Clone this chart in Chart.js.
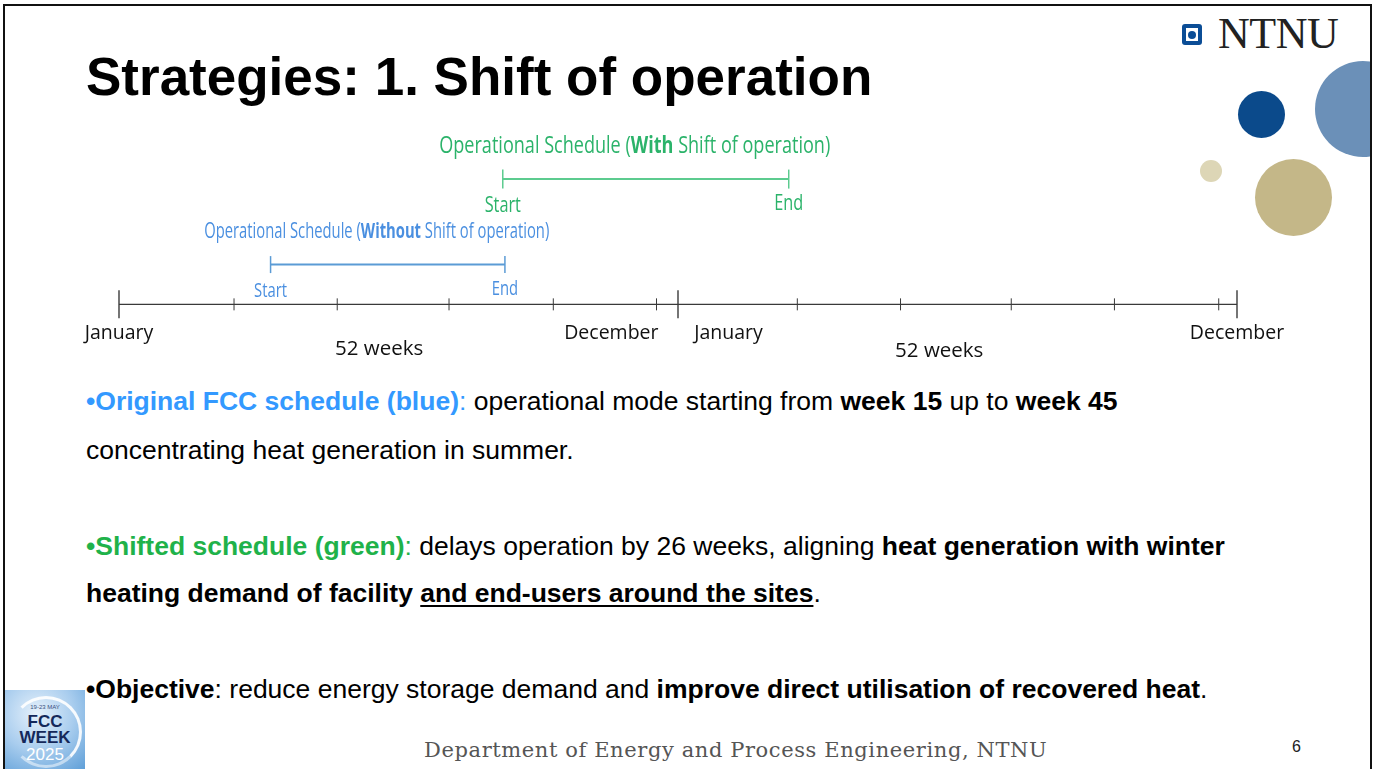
<!DOCTYPE html>
<html>
<head>
<meta charset="utf-8">
<script src="https://cdn.jsdelivr.net/npm/chart.js@4.4.1/dist/chart.umd.min.js"></script>
<style>
  html, body { margin: 0; padding: 0; background: #fff; }
  body { width: 1374px; height: 769px; position: relative; overflow: hidden; font-family: "Liberation Sans", Arial, sans-serif; }
  .clip { position: absolute; left: 0; top: 0; width: 1370px; height: 769px; overflow: hidden; }
  .frame { position: absolute; left: 3px; top: 4px; width: 1365px; height: 780px; border: 2px solid #111; }
  .dot { position: absolute; border-radius: 50%; }
  .title { position: absolute; left: 86px; top: 50px; font-size: 53px; font-weight: bold; line-height: 53px; color: #000; white-space: nowrap; }
  .line { position: absolute; left: 86px; font-size: 26.5px; line-height: 26.5px; color: #000; white-space: nowrap; }
  .blue { color: #3399ff; }
  .green { color: #1fb24a; }
  u { text-underline-offset: 3px; text-decoration-thickness: 2px; }
  .logo-box { position: absolute; left: 1182px; top: 24px; width: 20px; height: 21px; background: #0b4d96; border-radius: 3px; }
  .logo-box::before { content: ""; position: absolute; left: 4px; top: 4px; width: 12px; height: 13px; background: #fff; }
  .logo-box::after { content: ""; position: absolute; left: 6px; top: 6.5px; width: 8px; height: 8px; background: #0b4d96; border-radius: 50%; }
  .logo-text { position: absolute; left: 1218px; top: 12px; font-family: "Liberation Serif", serif; font-size: 44px; line-height: 44px; color: #222; letter-spacing: -0.5px; }
  .footer { position: absolute; left: 424px; top: 738px; font-family: "DejaVu Serif", serif; font-size: 21px; line-height: 24px; letter-spacing: 0.6px; color: #555; white-space: nowrap; }
  .page { position: absolute; left: 1292px; top: 738px; font-size: 16px; color: #222; }
  .fcc { position: absolute; left: 5px; top: 690px; width: 80px; height: 79px; background: radial-gradient(circle at 40% 30%, #e6f1fb 0%, #a9cdee 50%, #5f9fd8 100%); overflow: hidden; }
  .fcc .ring { position: absolute; left: 5px; top: 6px; width: 66px; height: 66px; border-radius: 50%; border: 3px solid rgba(255,255,255,0.9); border-left-color: transparent; border-bottom-color: rgba(255,255,255,0.5); }
  .fcc .t { position: absolute; width: 80px; text-align: center; font-weight: bold; color: #14285a; }
  #timeline { position: absolute; left: 0; top: 110px; }
</style>
</head>
<body>
<div class="clip">
  <div class="dot" style="left:1315px; top:61px; width:96px; height:96px; background:#6b90b8;"></div>
  <div class="dot" style="left:1238px; top:91px; width:47px; height:47px; background:#0b4a8b;"></div>
  <div class="dot" style="left:1200px; top:160px; width:22px; height:22px; background:#ddd6b6;"></div>
  <div class="dot" style="left:1255px; top:159px; width:77px; height:77px; background:#c4b788;"></div>
</div>
<div class="frame"></div>

<div class="logo-box"></div>
<div class="logo-text">NTNU</div>

<div class="title">Strategies: 1. Shift of operation</div>

<canvas id="timeline" width="1374" height="270"></canvas>

<div class="line" style="top:388px;"><span class="blue"><b>•Original FCC schedule (blue)</b>: </span>operational mode starting from <b>week 15</b> up to <b>week 45</b></div>
<div class="line" style="top:437px;">concentrating heat generation in summer.</div>
<div class="line" style="top:533px;"><span class="green"><b>•Shifted schedule (green)</b>: </span>delays operation by 26 weeks, aligning <b>heat generation with winter</b></div>
<div class="line" style="top:580px;"><b>heating demand of facility <u>and end-users around the sites</u></b>.</div>
<div class="line" style="top:676px;"><b>•Objective</b>: reduce energy storage demand and <b>improve direct utilisation of recovered heat</b>.</div>

<div class="fcc">
  <div class="ring"></div>
  <div class="t" style="top:14px; font-size:6px; font-weight:normal; color:#3a4f80;">19-23 MAY</div>
  <div class="t" style="top:23px; font-size:17px; line-height:17px;">FCC</div>
  <div class="t" style="top:39px; font-size:17px; line-height:17px;">WEEK</div>
  <div class="t" style="top:56px; font-size:17px; line-height:17px; font-weight:normal; color:#fff;">2025</div>
</div>

<div class="footer">Department of Energy and Process Engineering, NTNU</div>
<div class="page">6</div>

<script>
// timeline in weeks: two years of 52 weeks
const tickWeeks = [0, 10.7, 20.3, 30.7, 40.4, 50, 52, 63.1, 72.7, 83, 92.6, 102.3, 104];
const majorTickWeeks = [0, 52, 104];
const axisLabels = ['January', 'December', 'January', 'December'];
const axisLabelWeeks = [0, 45.8, 56.7, 104];
const spanLabels = ['52 weeks', '52 weeks'];
const spanLabelWeeks = [24.2, 76.3];

// operational schedules (without / with shift)
const scheduleNames = ['Without', 'With'];
const scheduleStart = [14.1, 35.7];
const scheduleEnd = [35.9, 62.3];
const scheduleRow = [1, 3.15];

const axisColor = '#3a3a3a';
const lineColors = ['#5b9bd5', '#5ccb8f'];
const textColors = ['#4a8fe0', '#2bb36a'];
const titleSize = [22, 23];
const titleWidth = [345, 391];
const markSize = [20, 22];

function drawRich(ctx, parts, cx, cy, size, fitWidth, scaleX) {
  let total = 0;
  parts.forEach(p => {
    ctx.font = (p.bold ? 'bold ' : '') + size + 'px "Open Sans"';
    total += ctx.measureText(p.text).width;
  });
  const sx = fitWidth ? fitWidth / total : scaleX;
  ctx.save();
  ctx.translate(cx - total * sx / 2, cy);
  ctx.scale(sx, 1);
  ctx.textAlign = 'left';
  ctx.textBaseline = 'middle';
  let xx = 0;
  parts.forEach(p => {
    ctx.font = (p.bold ? 'bold ' : '') + size + 'px "Open Sans"';
    ctx.fillText(p.text, xx, 0);
    xx += ctx.measureText(p.text).width;
  });
  ctx.restore();
}

const timelineLabels = {
  id: 'timelineLabels',
  afterDatasetsDraw(chart) {
    const { ctx, scales: { x, y } } = chart;
    const y0 = y.getPixelForValue(0);
    ctx.save();
    ctx.fillStyle = '#111';
    ctx.textAlign = 'center';
    ctx.textBaseline = 'middle';
    ctx.font = '19.5px "Open Sans"';
    axisLabels.forEach((t, i) => ctx.fillText(t, x.getPixelForValue(axisLabelWeeks[i]), y0 + 29));
    ctx.font = '20.5px "Open Sans"';
    spanLabels.forEach((t, i) => ctx.fillText(t, x.getPixelForValue(spanLabelWeeks[i]), y0 + 45 + i * 2));

    scheduleNames.forEach((name, i) => {
      const xs = x.getPixelForValue(scheduleStart[i]);
      const xe = x.getPixelForValue(scheduleEnd[i]);
      const yr = y.getPixelForValue(scheduleRow[i]);
      ctx.fillStyle = textColors[i];
      drawRich(ctx, [
        { text: 'Operational Schedule (' },
        { text: name, bold: true },
        { text: ' Shift of operation)' }
      ], (xs + xe) / 2 - 11, yr - 33, titleSize[i], titleWidth[i]);
      drawRich(ctx, [{ text: 'Start' }], xs, yr + 27, markSize[i], 0, 0.74);
      drawRich(ctx, [{ text: 'End' }], xe, yr + 25, markSize[i], 0, 0.74);
    });
    ctx.restore();
  }
};

const datasets = [
  {
    type: 'line',
    data: [{ x: tickWeeks[0], y: 0 }, { x: tickWeeks[tickWeeks.length - 1], y: 0 }],
    borderColor: axisColor,
    borderWidth: 1.3,
    pointRadius: 0
  },
  {
    type: 'scatter',
    data: tickWeeks.map(w => ({ x: w, y: 0 })),
    pointStyle: 'line',
    pointRotation: 90,
    pointRadius: ctx => majorTickWeeks.includes(ctx.raw.x) ? 14 : 6,
    pointBorderWidth: ctx => majorTickWeeks.includes(ctx.raw.x) ? 1.4 : 1,
    pointBorderColor: axisColor,
    pointBackgroundColor: axisColor
  }
];
scheduleNames.forEach((name, i) => {
  datasets.push({
    type: 'line',
    label: name,
    data: [{ x: scheduleStart[i], y: scheduleRow[i] }, { x: scheduleEnd[i], y: scheduleRow[i] }],
    borderColor: lineColors[i],
    borderWidth: 2,
    pointStyle: 'line',
    pointRotation: 90,
    pointRadius: 8.5 + i,
    pointBorderWidth: 1.5,
    pointBorderColor: lineColors[i]
  });
});

new Chart(document.getElementById('timeline').getContext('2d'), {
  type: 'scatter',
  data: { datasets: datasets.map(d => Object.assign({ clip: false }, d)) },
  options: {
    responsive: false,
    animation: false,
    layout: { padding: { left: 119, right: 137, top: 14, bottom: 16 } },
    plugins: { legend: { display: false }, tooltip: { enabled: false } },
    scales: {
      x: { type: 'linear', min: 0, max: 104, display: false },
      y: { type: 'linear', min: -1.5, max: 4.5, display: false }
    }
  },
  plugins: [timelineLabels]
});
</script>
</body>
</html>
